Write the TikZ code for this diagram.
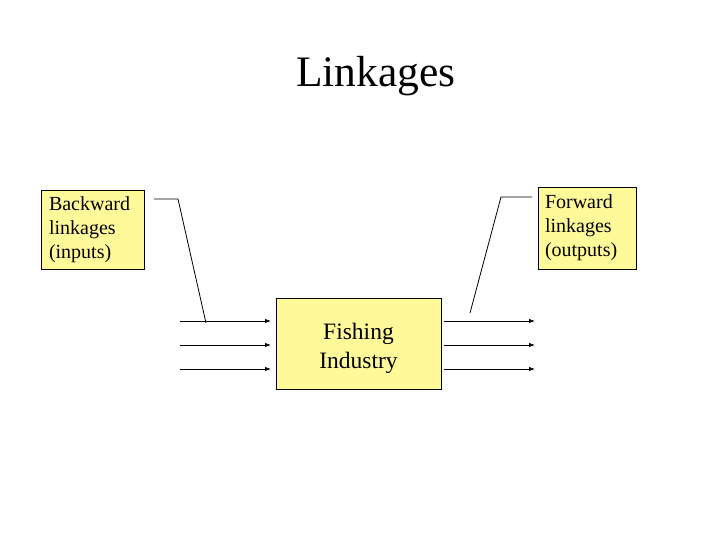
\documentclass[tikz,border=0pt]{standalone}
\usepackage{fontspec}
\setmainfont{Liberation Serif}
\usetikzlibrary{arrows.meta}
\begin{document}
\begin{tikzpicture}[x=1pt,y=1pt,
  box/.style={draw=black,line width=0.8pt,fill=yellow!40!white,inner sep=0pt,align=left},
  flow/.style={line width=0.9pt,-{Latex[length=6pt,width=4.5pt]}},
  callout/.style={line width=0.8pt}]
\useasboundingbox (0,0) rectangle (720,540);
\node[font=\fontsize{43.5}{48}\selectfont] (title) at (376,464) {Linkages};
\node[box,minimum width=103pt,minimum height=79pt,text width=87pt,font=\fontsize{20}{24}\selectfont] (back) at (92.5,310.5) {Backward\\linkages\\(inputs)};
\node[box,minimum width=98pt,minimum height=82pt,text width=84pt,font=\fontsize{20}{24}\selectfont] (fwd) at (587,312) {Forward\\linkages\\(outputs)};
\node[box,minimum width=165pt,minimum height=91pt,
  label={[align=center,font=\fontsize{23.5}{29}\selectfont,yshift=-5pt]center:Fishing\\Industry}] (fish) at (358.5,196.5) {};
\foreach \y/\n in {219/a,195/b,171/c}{
  \coordinate (in\n) at (180,\y);
  \coordinate (ie\n) at (271,\y);
  \coordinate (os\n) at (444,\y);
  \coordinate (out\n) at (535,\y);
  \draw[flow] (in\n) -- (ie\n);
  \draw[flow] (os\n) -- (out\n);
}
\coordinate (bc1) at (154,341);
\coordinate (bc2) at (178,341);
\coordinate (bc3) at (206,217);
\draw[callout] (bc1) -- (bc2) -- (bc3);
\coordinate (fc1) at (532,343);
\coordinate (fc2) at (501,343);
\coordinate (fc3) at (470,227);
\draw[callout] (fc1) -- (fc2) -- (fc3);
\end{tikzpicture}
\end{document}
